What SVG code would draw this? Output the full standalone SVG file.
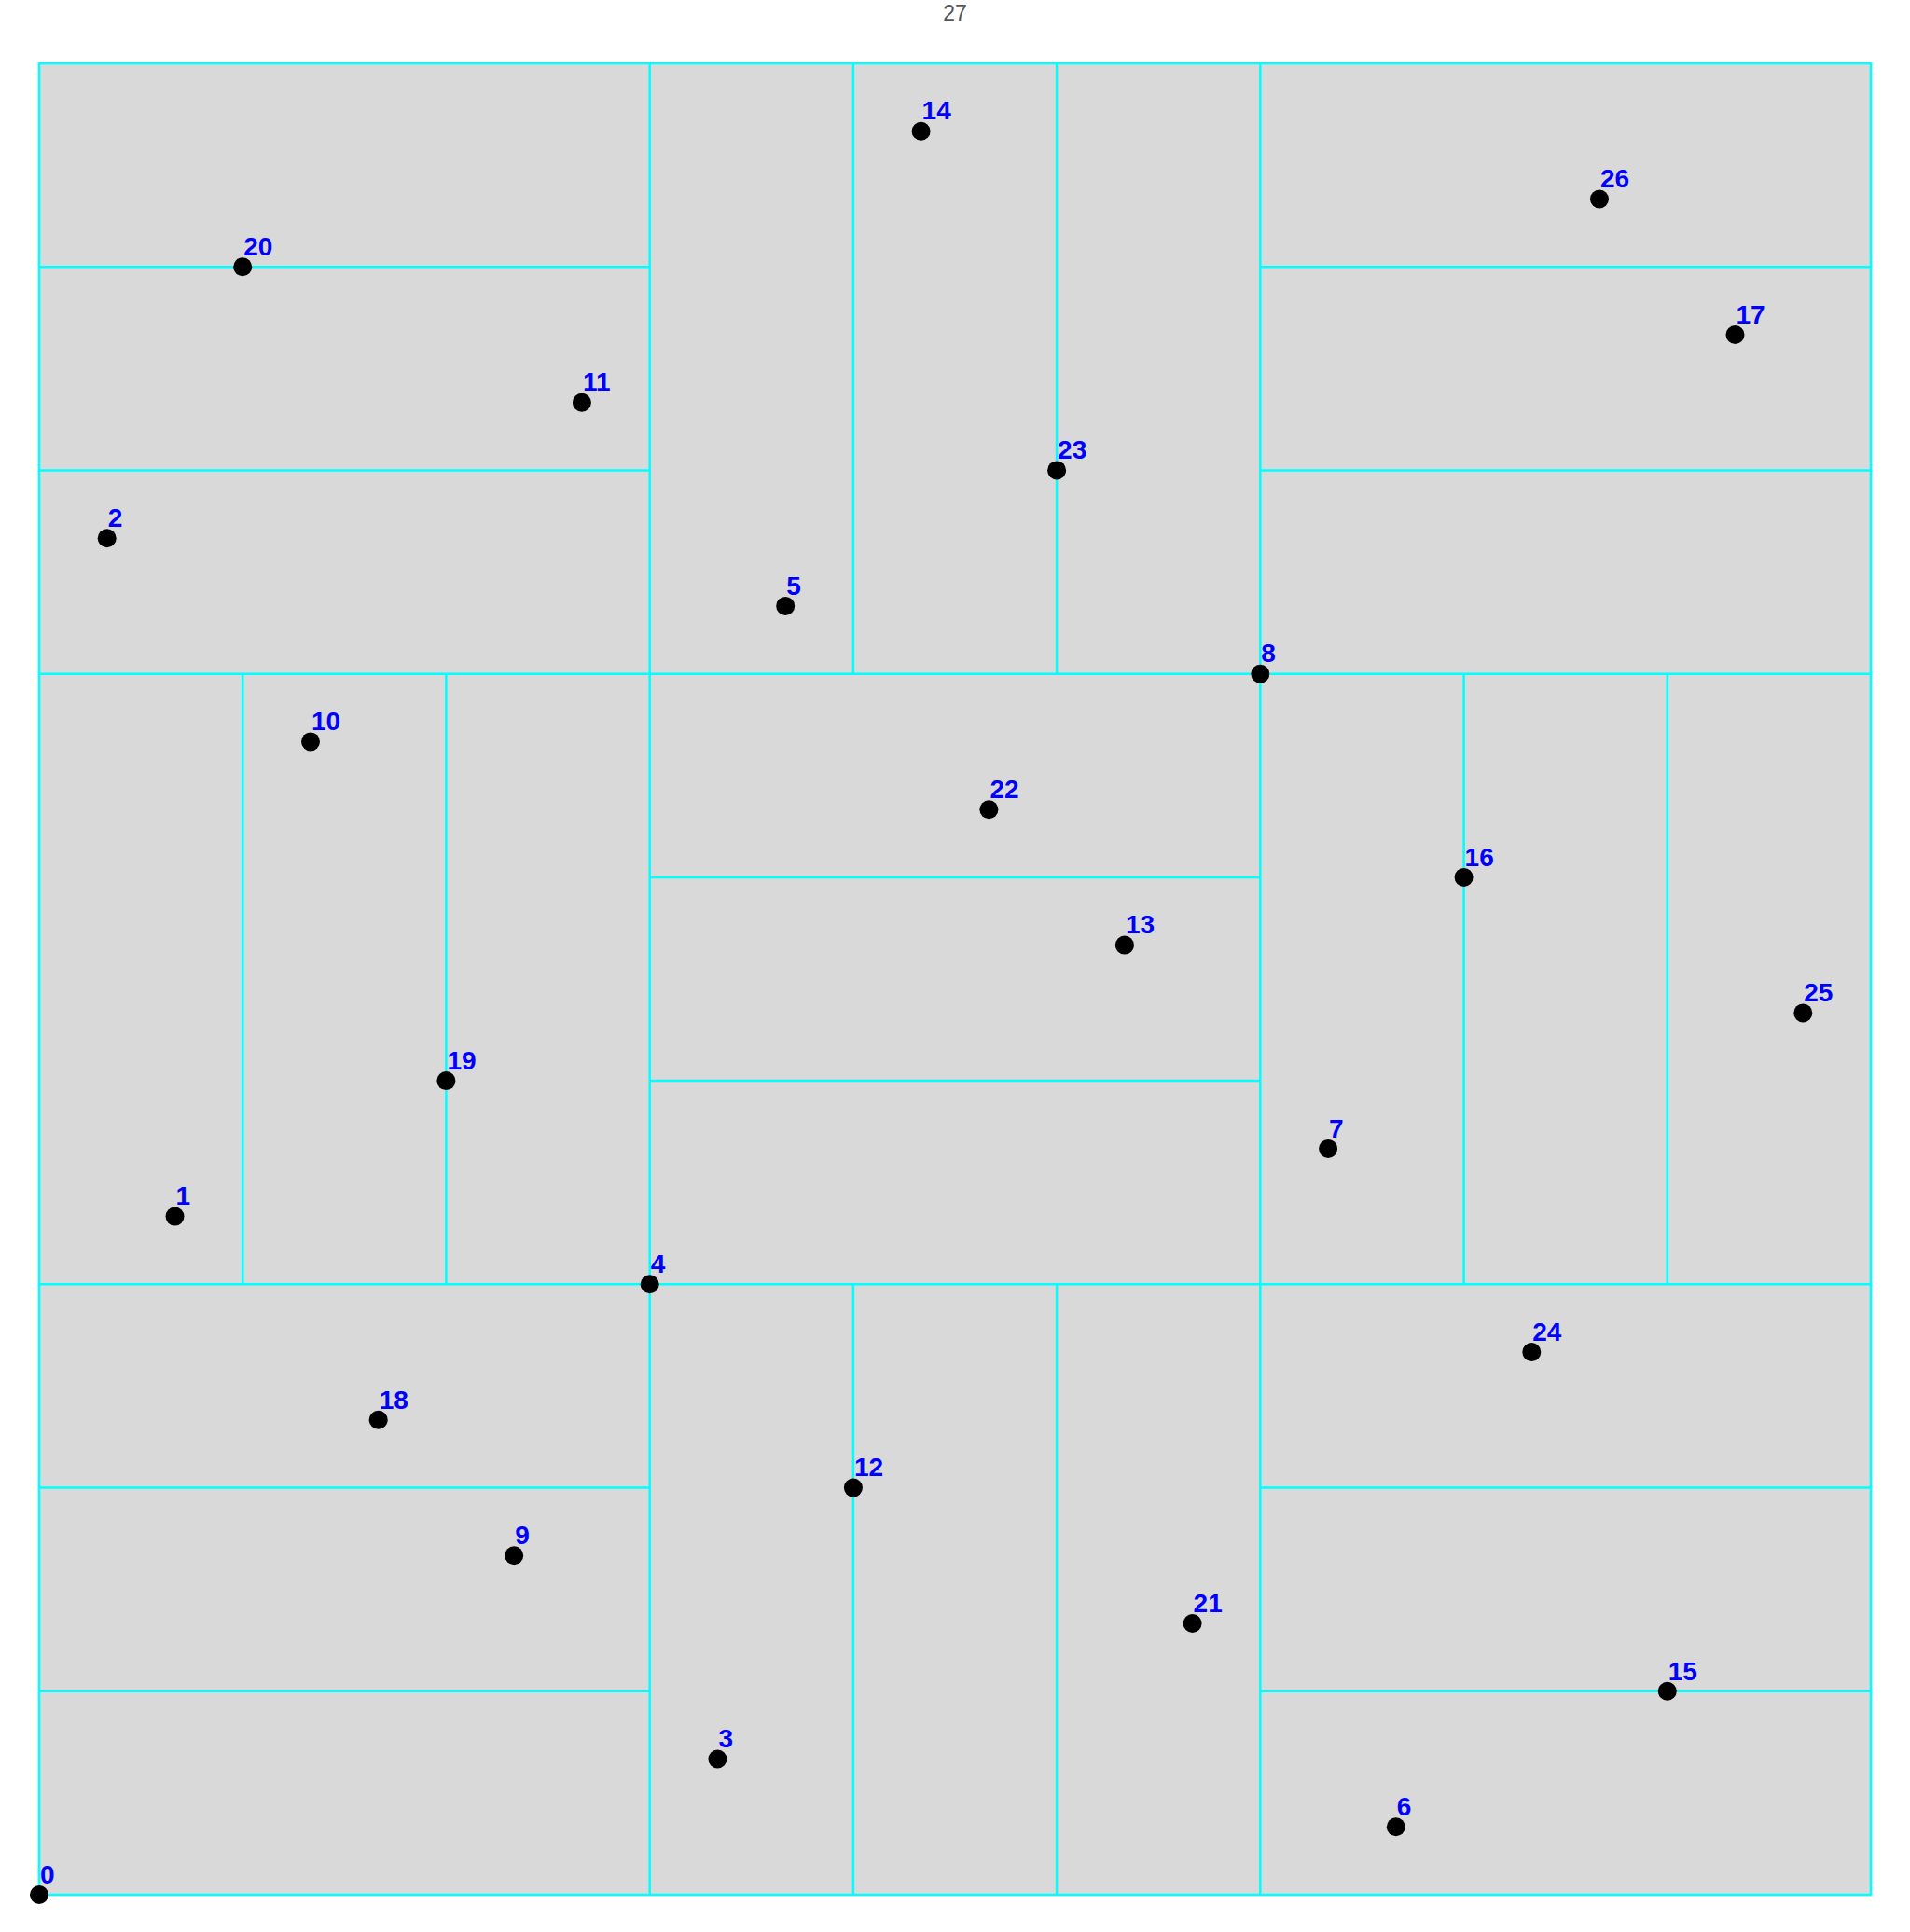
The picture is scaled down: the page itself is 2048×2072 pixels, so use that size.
<svg xmlns="http://www.w3.org/2000/svg" width="2048" height="2072" viewBox="0 0 2048 2072">
<style>
.cell{fill:#d9d9d9;stroke:#00ffff;stroke-width:2.5}
.ln{stroke:#00ffff;stroke-width:2.5;fill:none}
.dot{fill:#000}
.lbl{font-family:"Liberation Sans",Arial,sans-serif;font-size:28px;font-weight:bold;fill:#0000ff}
.title{font-family:"Liberation Sans",Arial,sans-serif;font-size:23px;fill:#555555}
</style>
<rect width="2048" height="2072" fill="#ffffff"/>
<text class="title" x="1024" y="22" text-anchor="middle">27</text>
<rect class="cell" x="42" y="68" width="1964" height="1964"/>
<g id="connectors">
<line class="ln" x1="696.7" y1="68" x2="696.7" y2="2032"/>
<line class="ln" x1="1351.3" y1="68" x2="1351.3" y2="2032"/>
<line class="ln" x1="42" y1="722.7" x2="2006" y2="722.7"/>
<line class="ln" x1="42" y1="1377.3" x2="2006" y2="1377.3"/>
<line class="ln" x1="42" y1="286.2" x2="696.7" y2="286.2"/>
<line class="ln" x1="42" y1="504.4" x2="696.7" y2="504.4"/>
<line class="ln" x1="914.9" y1="68" x2="914.9" y2="722.7"/>
<line class="ln" x1="1133.1" y1="68" x2="1133.1" y2="722.7"/>
<line class="ln" x1="1351.3" y1="286.2" x2="2006" y2="286.2"/>
<line class="ln" x1="1351.3" y1="504.4" x2="2006" y2="504.4"/>
<line class="ln" x1="260.2" y1="722.7" x2="260.2" y2="1377.3"/>
<line class="ln" x1="478.4" y1="722.7" x2="478.4" y2="1377.3"/>
<line class="ln" x1="696.7" y1="940.9" x2="1351.3" y2="940.9"/>
<line class="ln" x1="696.7" y1="1159.1" x2="1351.3" y2="1159.1"/>
<line class="ln" x1="1569.6" y1="722.7" x2="1569.6" y2="1377.3"/>
<line class="ln" x1="1787.8" y1="722.7" x2="1787.8" y2="1377.3"/>
<line class="ln" x1="42" y1="1595.6" x2="696.7" y2="1595.6"/>
<line class="ln" x1="42" y1="1813.8" x2="696.7" y2="1813.8"/>
<line class="ln" x1="914.9" y1="1377.3" x2="914.9" y2="2032"/>
<line class="ln" x1="1133.1" y1="1377.3" x2="1133.1" y2="2032"/>
<line class="ln" x1="1351.3" y1="1595.6" x2="2006" y2="1595.6"/>
<line class="ln" x1="1351.3" y1="1813.8" x2="2006" y2="1813.8"/>
</g>
<g id="n0"><circle class="dot" cx="42" cy="2032" r="10"/><text class="lbl" x="43" y="2020">0</text></g>
<g id="n1"><circle class="dot" cx="187.5" cy="1304.6" r="10"/><text class="lbl" x="188.5" y="1292.3">1</text></g>
<g id="n2"><circle class="dot" cx="114.7" cy="577.2" r="10"/><text class="lbl" x="115.7" y="564.9">2</text></g>
<g id="n3"><circle class="dot" cx="769.4" cy="1886.5" r="10"/><text class="lbl" x="770.4" y="1874.2">3</text></g>
<g id="n4"><circle class="dot" cx="696.7" cy="1377.3" r="10"/><text class="lbl" x="697.7" y="1365">4</text></g>
<g id="n5"><circle class="dot" cx="842.2" cy="649.9" r="10"/><text class="lbl" x="843.2" y="637.6">5</text></g>
<g id="n6"><circle class="dot" cx="1496.8" cy="1959.3" r="10"/><text class="lbl" x="1497.8" y="1947">6</text></g>
<g id="n7"><circle class="dot" cx="1424.1" cy="1231.9" r="10"/><text class="lbl" x="1425.1" y="1219.6">7</text></g>
<g id="n8"><circle class="dot" cx="1351.3" cy="722.7" r="10"/><text class="lbl" x="1352.3" y="710.4">8</text></g>
<g id="n9"><circle class="dot" cx="551.2" cy="1668.3" r="10"/><text class="lbl" x="552.2" y="1656">9</text></g>
<g id="n10"><circle class="dot" cx="333" cy="795.4" r="10"/><text class="lbl" x="334" y="783.1">10</text></g>
<g id="n11"><circle class="dot" cx="623.9" cy="431.7" r="10"/><text class="lbl" x="624.9" y="419.4">11</text></g>
<g id="n12"><circle class="dot" cx="914.9" cy="1595.6" r="10"/><text class="lbl" x="915.9" y="1583.3">12</text></g>
<g id="n13"><circle class="dot" cx="1205.9" cy="1013.6" r="10"/><text class="lbl" x="1206.9" y="1001.3">13</text></g>
<g id="n14"><circle class="dot" cx="987.6" cy="140.7" r="10"/><text class="lbl" x="988.6" y="128.4">14</text></g>
<g id="n15"><circle class="dot" cx="1787.8" cy="1813.8" r="10"/><text class="lbl" x="1788.8" y="1801.5">15</text></g>
<g id="n16"><circle class="dot" cx="1569.6" cy="940.9" r="10"/><text class="lbl" x="1570.6" y="928.6">16</text></g>
<g id="n17"><circle class="dot" cx="1860.5" cy="359" r="10"/><text class="lbl" x="1861.5" y="346.7">17</text></g>
<g id="n18"><circle class="dot" cx="405.7" cy="1522.8" r="10"/><text class="lbl" x="406.7" y="1510.5">18</text></g>
<g id="n19"><circle class="dot" cx="478.4" cy="1159.1" r="10"/><text class="lbl" x="479.4" y="1146.8">19</text></g>
<g id="n20"><circle class="dot" cx="260.2" cy="286.2" r="10"/><text class="lbl" x="261.2" y="273.9">20</text></g>
<g id="n21"><circle class="dot" cx="1278.6" cy="1741" r="10"/><text class="lbl" x="1279.6" y="1728.7">21</text></g>
<g id="n22"><circle class="dot" cx="1060.4" cy="868.2" r="10"/><text class="lbl" x="1061.4" y="855.9">22</text></g>
<g id="n23"><circle class="dot" cx="1133.1" cy="504.4" r="10"/><text class="lbl" x="1134.1" y="492.1">23</text></g>
<g id="n24"><circle class="dot" cx="1642.3" cy="1450.1" r="10"/><text class="lbl" x="1643.3" y="1437.8">24</text></g>
<g id="n25"><circle class="dot" cx="1933.3" cy="1086.4" r="10"/><text class="lbl" x="1934.3" y="1074.1">25</text></g>
<g id="n26"><circle class="dot" cx="1715" cy="213.5" r="10"/><text class="lbl" x="1716" y="201.2">26</text></g>
</svg>
